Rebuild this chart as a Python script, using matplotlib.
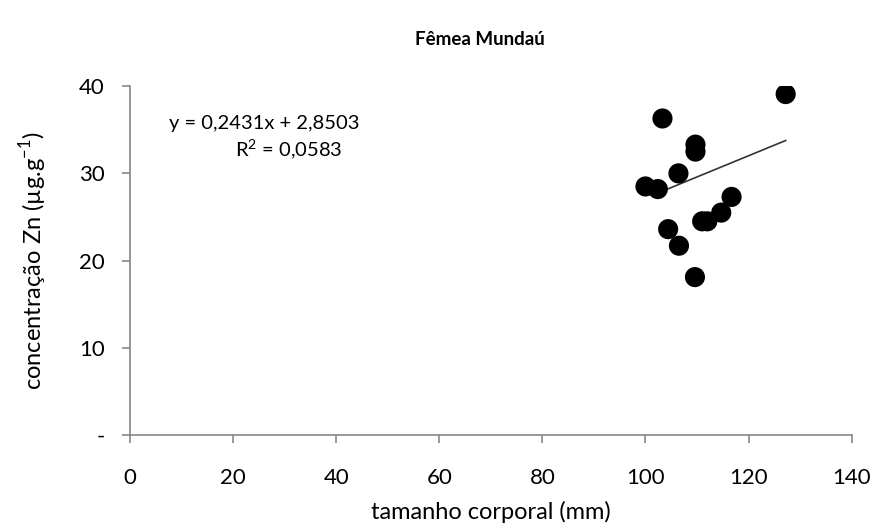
import matplotlib.pyplot as plt
import numpy as np

# data
tamanho = [127.2, 103.3, 109.7, 109.7, 106.4, 100.0, 102.4, 116.7, 114.7, 111.0, 112.0, 104.4, 106.5, 109.6]
zinco = [39.1, 36.3, 33.3, 32.5, 30.0, 28.5, 28.2, 27.3, 25.5, 24.5, 24.5, 23.6, 21.7, 18.1]

# trend line from the equation shown on the chart
slope = 0.2431
intercept = 2.8503
trend_x = [102.0, 127.2]

x_ticks = [0, 20, 40, 60, 80, 100, 120, 140]
y_ticks = [0, 10, 20, 30, 40]
y_labels = ["-", "10", "20", "30", "40"]

plt.rcParams['font.family'] = ['Lato', 'DejaVu Sans']

fig = plt.figure(figsize=(8.78, 5.29), dpi=100)
ax = fig.add_axes([0.148, 0.178, 0.822, 0.659])

ax.scatter(tamanho, zinco, s=210, c='black', edgecolors='none', zorder=3)

xs = np.array(trend_x)
ax.plot(xs, slope * xs + intercept, color='#333333', linewidth=1.2, zorder=2)

ax.set_xlim(0, 140)
ax.set_ylim(0, 40)
ax.set_xticks(x_ticks)
ax.set_yticks(y_ticks)
ax.set_yticklabels(y_labels)

for side in ['top', 'right']:
    ax.spines[side].set_visible(False)
for side in ['left', 'bottom']:
    ax.spines[side].set_color('#888888')
    ax.spines[side].set_linewidth(1.2)
ax.tick_params(axis='both', colors='#888888', length=6, width=1.2,
               labelsize=16, labelcolor='black')
ax.tick_params(axis='x', pad=18)
ax.tick_params(axis='y', pad=12)

ax.set_xlabel("tamanho corporal (mm)", fontsize=17, labelpad=9)
ax.set_ylabel(r"concentração Zn (µg.g$^{\mathregular{-1}}$)", fontsize=17, labelpad=22)
fig.text(0.546, 0.925, "Fêmea Mundaú", ha='center', va='center', fontsize=13.5, fontweight='bold')

ax.text(0.186, 0.894, "y = 0,2431x + 2,8503", transform=ax.transAxes, ha='center', va='center', fontsize=14.5)
ax.text(0.22, 0.818, r"R$^{\mathregular{2}}$ = 0,0583", transform=ax.transAxes, ha='center', va='center', fontsize=14.5)

plt.savefig("out.png", dpi=100)
